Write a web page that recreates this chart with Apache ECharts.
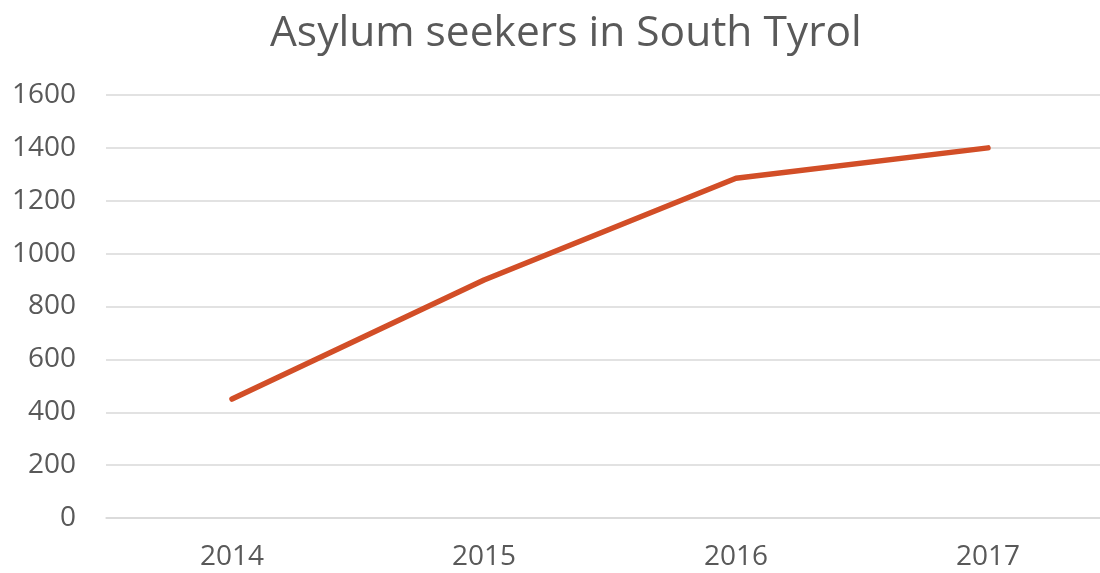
<!DOCTYPE html>
<html>
<head>
<meta charset="utf-8">
<script src="https://cdn.jsdelivr.net/npm/echarts@6/dist/echarts.min.js"></script>
<style>
  html, body { margin: 0; padding: 0; background: #fff; }
  #main { width: 1100px; height: 573px; }
</style>
</head>
<body>
<div id="main"></div>
<script>
var years = ['2014', '2015', '2016', '2017']
var seekers = [450, 900, 1285, 1400]
var yTicks = { min: 0, max: 1600, step: 200 }

var chart = echarts.init(document.getElementById('main'))
var option = {
  animation: false,
  title: {
    text: 'Asylum seekers in South Tyrol',
    left: 265,
    top: 7,
    textStyle: {
      color: '#595959',
      fontSize: 42.5,
      fontWeight: 'normal',
      fontFamily: 'Open Sans'
    }
  },
  grid: {
    left: 106,
    top: 95,
    width: 1008,
    height: 423,
    outerBoundsMode: 'none',
    containLabel: false
  },
  xAxis: {
    type: 'category',
    data: years,
    axisLine: { lineStyle: { color: '#d9d9d9', width: 1.5 } },
    axisTick: { show: false },
    axisLabel: {
      color: '#595959',
      fontSize: 28,
      fontFamily: 'Open Sans',
      margin: 25
    }
  },
  yAxis: {
    type: 'value',
    min: yTicks.min,
    max: yTicks.max,
    interval: yTicks.step,
    axisLine: { show: false },
    axisTick: { show: false },
    splitLine: { lineStyle: { color: '#d9d9d9', width: 1.5 } },
    axisLabel: {
      color: '#595959',
      fontSize: 28,
      fontFamily: 'Open Sans',
      margin: 30,
      formatter: function(v) { return String(v) }
    }
  },
  series: [
    {
      name: 'Asylum seekers',
      type: 'line',
      data: seekers,
      symbol: 'none',
      lineStyle: { color: '#d24e27', width: 5.5, cap: 'round', join: 'round' }
    }
  ]
}
chart.setOption(option)
</script>
</body>
</html>
